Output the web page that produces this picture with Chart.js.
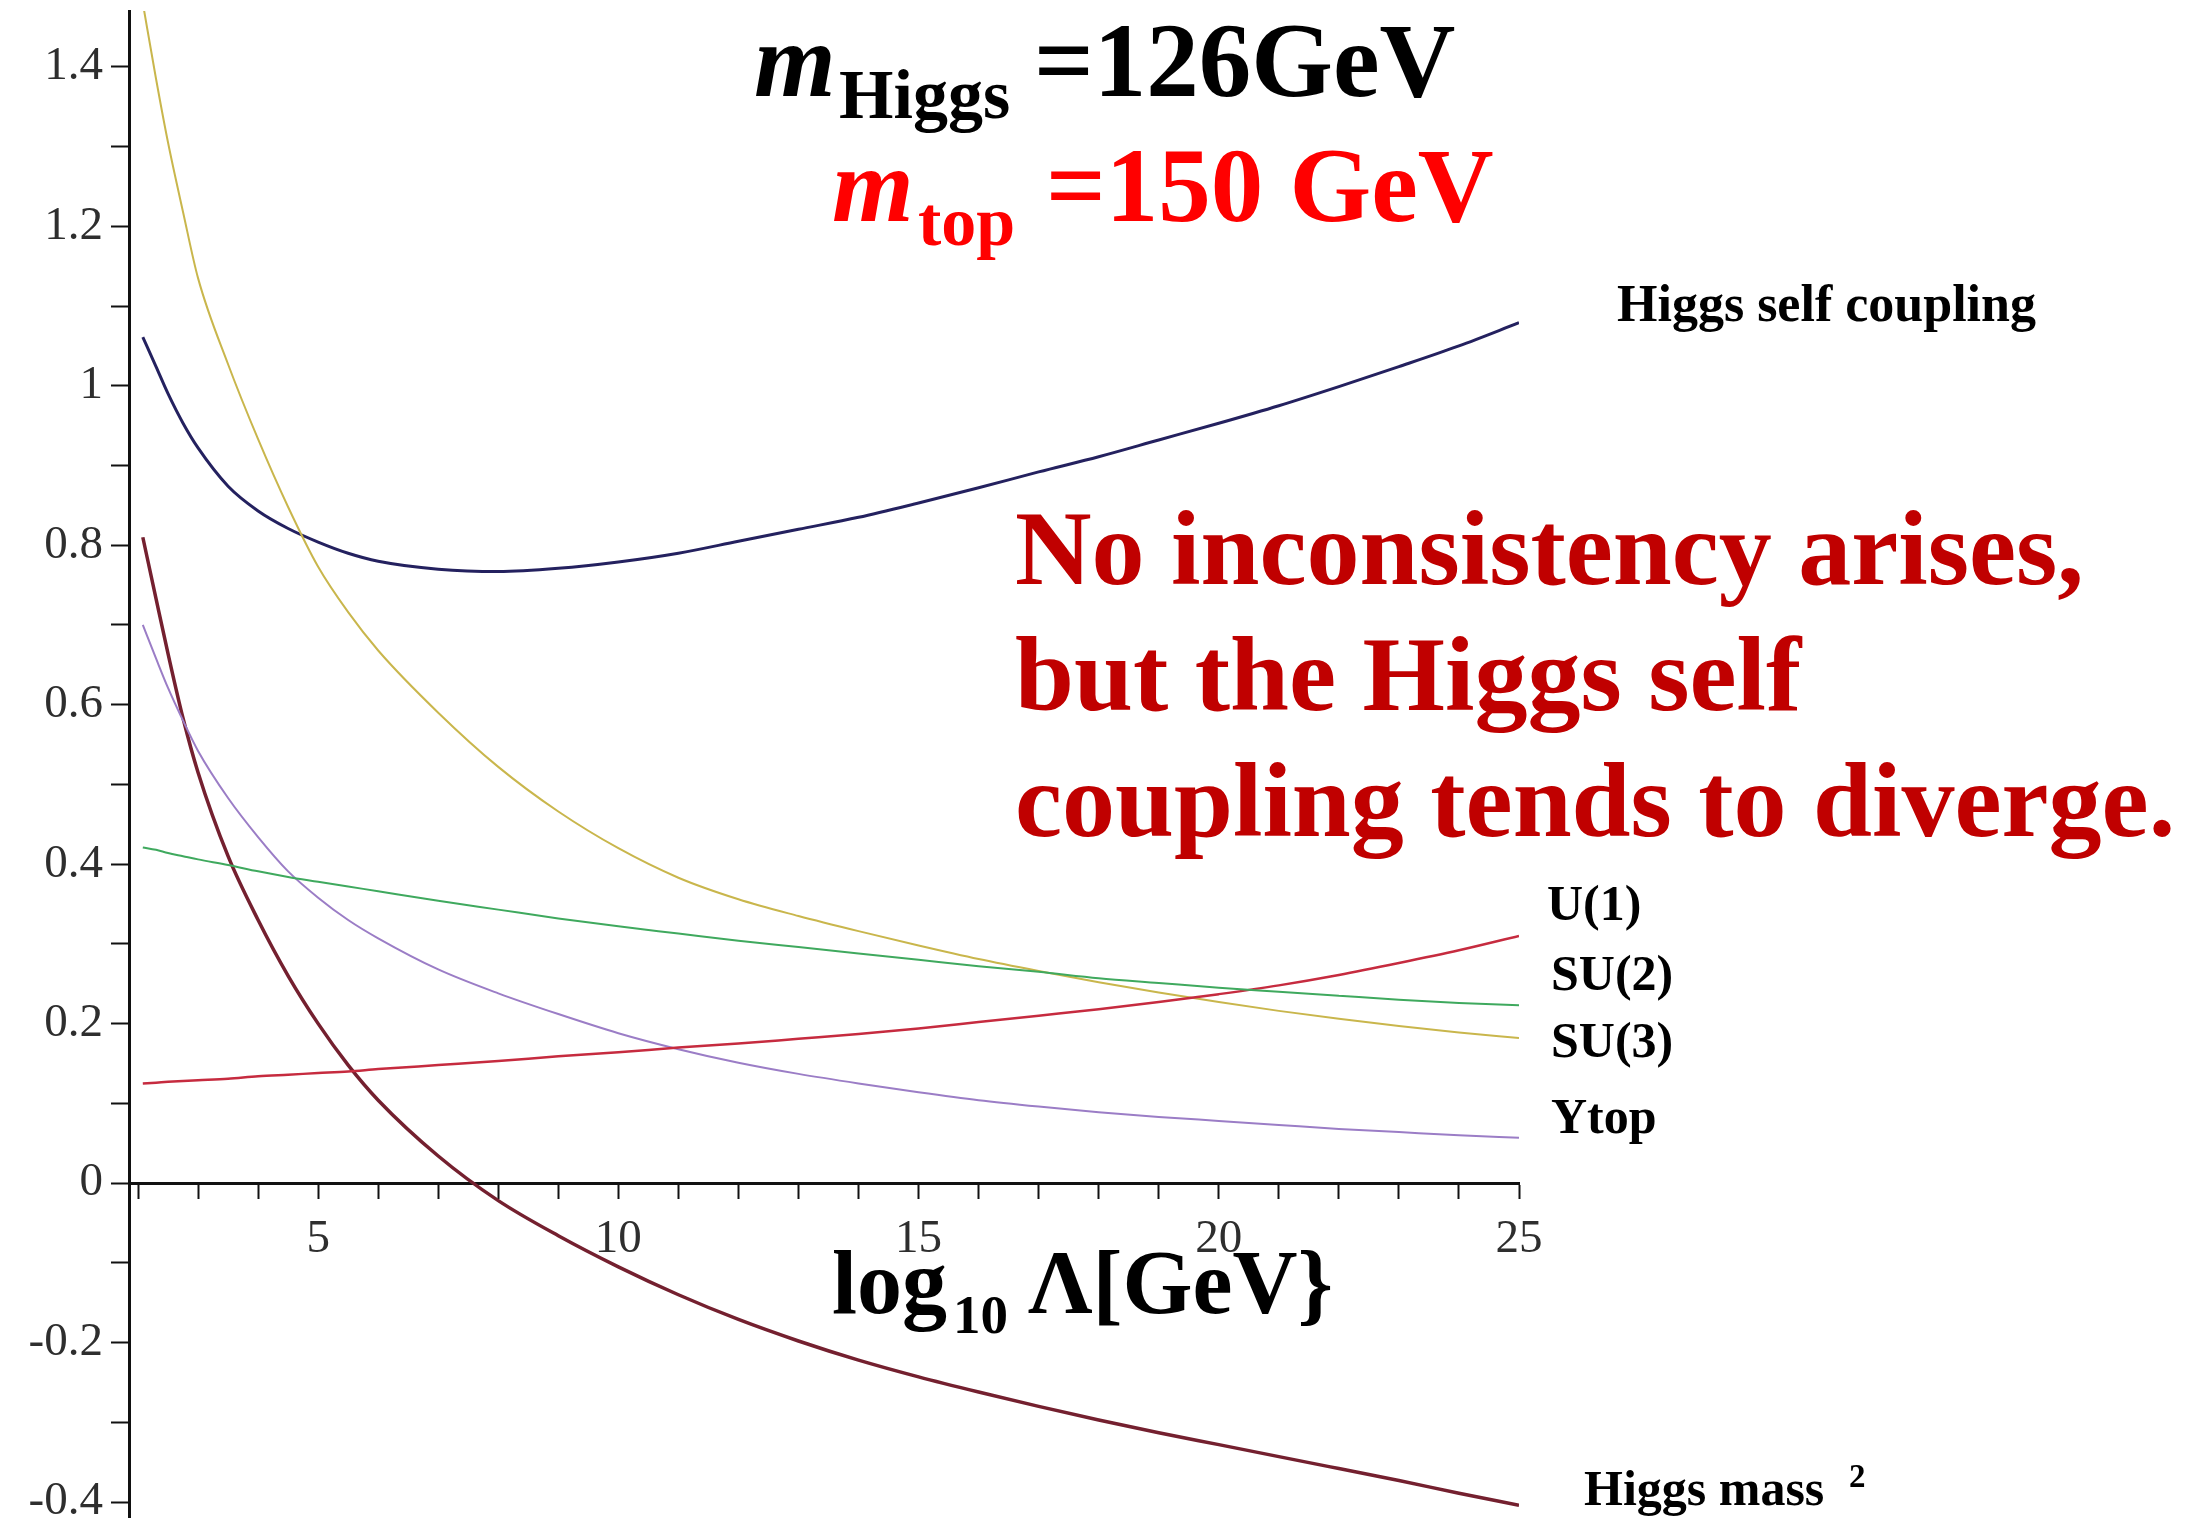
<!DOCTYPE html>
<html>
<head>
<meta charset="utf-8">
<script src="https://cdn.jsdelivr.net/npm/chart.js@4.4.1/dist/chart.umd.min.js"></script>
<style>
  html, body { margin: 0; padding: 0; background: #fff; }
  #wrap { position: relative; width: 2211px; height: 1518px; overflow: hidden; background: #fff; }
  #wrap canvas { position: absolute; left: 0; top: 0; }
  .note {
    position: absolute;
    font-family: "Liberation Serif", "Times New Roman", serif;
    font-weight: bold;
    line-height: 1;
    white-space: nowrap;
  }
</style>
</head>
<body>
<div id="wrap">
  <canvas id="rgChart" width="2211" height="1518"></canvas>
</div>
<script>
// ---- Data ----

// log10 of the cutoff scale, shared by all curves
const logLambda = [2.08, 2.3, 2.5, 2.75, 3, 3.5, 4, 4.5, 5, 5.5, 6, 7, 8, 9, 10,
  11, 12, 13, 14, 15, 16, 17, 18, 19, 20, 21, 22, 23, 24, 25];

const selfCoupling = [1.061, 1.024, 0.990, 0.953, 0.922, 0.874, 0.843, 0.821, 0.804, 0.790, 0.780,
  0.770, 0.767, 0.771, 0.779, 0.790, 0.805, 0.820, 0.835, 0.853, 0.872, 0.892, 0.911,
  0.932, 0.953, 0.975, 0.999, 1.024, 1.050, 1.079];

const su3 = [1.48, 1.385, 1.305, 1.218, 1.135, 1.027, 0.933, 0.848, 0.773, 0.716, 0.668,
  0.590, 0.522, 0.466, 0.420, 0.383, 0.356, 0.335, 0.316, 0.298, 0.281, 0.266, 0.252,
  0.239, 0.227, 0.216, 0.206, 0.197, 0.189, 0.182];

const su2 = [0.421, 0.418, 0.414, 0.410, 0.406, 0.399, 0.391, 0.384, 0.378, 0.372, 0.366,
  0.354, 0.343, 0.332, 0.322, 0.313, 0.304, 0.296, 0.288, 0.280, 0.272, 0.265, 0.257,
  0.251, 0.245, 0.240, 0.235, 0.230, 0.226, 0.223];

const u1 = [0.125, 0.126, 0.127, 0.128, 0.129, 0.131, 0.134, 0.136, 0.138, 0.140, 0.143,
  0.148, 0.153, 0.159, 0.164, 0.170, 0.175, 0.181, 0.187, 0.194, 0.202, 0.210, 0.218,
  0.227, 0.237, 0.248, 0.261, 0.276, 0.292, 0.310];

const yTop = [0.700, 0.658, 0.621, 0.580, 0.542, 0.483, 0.434, 0.391, 0.358, 0.330, 0.307,
  0.268, 0.238, 0.212, 0.188, 0.168, 0.151, 0.137, 0.125, 0.114, 0.104, 0.096, 0.089,
  0.083, 0.078, 0.073, 0.068, 0.064, 0.060, 0.057];

const higgsMass2 = [0.810, 0.733, 0.664, 0.583, 0.515, 0.410, 0.330, 0.260, 0.200, 0.148, 0.104,
  0.034, -0.022, -0.066, -0.105, -0.140, -0.171, -0.198, -0.222, -0.243, -0.262, -0.280, -0.297,
  -0.313, -0.328, -0.343, -0.358, -0.373, -0.389, -0.404];

// ---- Ticks ----

const xTicks = [2, 3, 4, 5, 6, 7, 8, 9, 10, 11, 12, 13, 14, 15, 16, 17, 18, 19, 20,
  21, 22, 23, 24, 25];
const xTickLabels = ['5', '10', '15', '20', '25'];

const yTicks = [-0.4, -0.3, -0.2, -0.1, 0, 0.1, 0.2, 0.3, 0.4, 0.5, 0.6, 0.7, 0.8,
  0.9, 1, 1.1, 1.2, 1.3, 1.4];
const yTickLabels = ['-0.4', '-0.2', '0', '0.2', '0.4', '0.6', '0.8', '1', '1.2', '1.4'];

// ---- Chart ----

function toPoints(values) {
  return logLambda.map((x, i) => ({ x: x, y: values[i] }));
}

function curve(values, color, width) {
  return {
    data: toPoints(values),
    borderColor: color,
    backgroundColor: color,
    borderWidth: width,
    pointRadius: 0,
    fill: false,
    cubicInterpolationMode: 'monotone'
  };
}

function xLabel(v) {
  const s = String(Math.round(v));
  return xTickLabels.includes(s) ? s : '';
}

function yLabel(v) {
  const s = String(Math.round(v * 10) / 10);
  return yTickLabels.includes(s) ? s : '';
}

const tickFont = { family: '"Liberation Serif", "Times New Roman", serif', size: 47 };

new Chart(document.getElementById('rgChart'), {
  type: 'line',
  data: {
    datasets: [
      curve(su2, '#3fa95e', 2),
      curve(u1, '#c62b3f', 2.5),
      curve(yTop, '#9b7dc6', 2),
      curve(su3, '#c9b64c', 2),
      curve(higgsMass2, '#74202f', 3.5),
      curve(selfCoupling, '#24215f', 3)
    ]
  },
  options: {
    responsive: false,
    animation: false,
    layout: { padding: { left: 0, top: 11, right: 692, bottom: 0 } },
    plugins: { legend: { display: false }, tooltip: { enabled: false } },
    scales: {
      x: {
        type: 'linear',
        min: 1.85,
        max: 25,
        position: { y: 0 },
        afterBuildTicks: axis => { axis.ticks = xTicks.map(v => ({ value: v })); },
        afterFit: axis => {
          axis.paddingLeft = 0; axis.paddingRight = 0;
          axis.paddingTop = 0; axis.paddingBottom = 0;
        },
        ticks: {
          callback: xLabel,
          font: tickFont,
          color: '#2e2e2e',
          padding: 14,
          autoSkip: false,
          maxRotation: 0
        },
        grid: { drawOnChartArea: false, drawTicks: true, tickLength: 14, tickWidth: 2, tickColor: '#111' },
        border: { display: true, color: '#111', width: 3 }
      },
      y: {
        type: 'linear',
        min: -0.42,
        max: 1.47,
        position: 'left',
        afterBuildTicks: axis => { axis.ticks = yTicks.map(v => ({ value: v })); },
        afterFit: axis => {
          axis.width = 129;
          axis.paddingTop = 0; axis.paddingBottom = 0;
        },
        ticks: {
          callback: yLabel,
          font: tickFont,
          color: '#2e2e2e',
          padding: 8,
          autoSkip: false
        },
        grid: { drawOnChartArea: false, drawTicks: true, tickLength: 18, tickWidth: 2, tickColor: '#111' },
        border: { display: true, color: '#111', width: 3 }
      }
    }
  }
});

// ---- Text annotations ----

const notes = [
  { text: 'm', x: 754, base: 96, size: 105, color: '#000', italic: true },
  { text: 'Higgs', x: 839, base: 119, size: 70, color: '#000' },
  { text: '=126GeV', x: 1034, base: 96, size: 105, color: '#000' },
  { text: 'm', x: 832, base: 221, size: 105, color: '#ff0000', italic: true },
  { text: 'top', x: 918, base: 246, size: 70, color: '#ff0000' },
  { text: '=150 GeV', x: 1046, base: 221, size: 105, color: '#ff0000' },
  { text: 'Higgs self coupling', x: 1617, base: 322, size: 52, color: '#000' },
  { text: 'No inconsistency arises,', x: 1015, base: 585, size: 106, color: '#c00000' },
  { text: 'but the Higgs self', x: 1015, base: 711, size: 106, color: '#c00000' },
  { text: 'coupling tends to diverge.', x: 1015, base: 837, size: 106, color: '#c00000' },
  { text: 'U(1)', x: 1547, base: 920, size: 50, color: '#000' },
  { text: 'SU(2)', x: 1551, base: 990, size: 50, color: '#000' },
  { text: 'SU(3)', x: 1551, base: 1057, size: 50, color: '#000' },
  { text: 'Ytop', x: 1551, base: 1133, size: 50, color: '#000' },
  { text: 'Higgs mass', x: 1584, base: 1505, size: 50, color: '#000' },
  { text: '2', x: 1849, base: 1488, size: 33, color: '#000' },
  { text: 'log', x: 832, base: 1313, size: 90, color: '#000' },
  { text: '10', x: 953, base: 1333, size: 55, color: '#000' },
  { text: '\u039b[GeV}', x: 1028, base: 1313, size: 90, color: '#000' }
];

const wrap = document.getElementById('wrap');
notes.forEach(n => {
  const el = document.createElement('div');
  el.className = 'note';
  el.textContent = n.text;
  el.style.left = n.x + 'px';
  // line-height 1: baseline sits 0.8375em below the box top for Liberation Serif
  el.style.top = (n.base - 0.8375 * n.size) + 'px';
  el.style.fontSize = n.size + 'px';
  el.style.color = n.color;
  if (n.italic) el.style.fontStyle = 'italic';
  wrap.appendChild(el);
});
</script>
</body>
</html>
